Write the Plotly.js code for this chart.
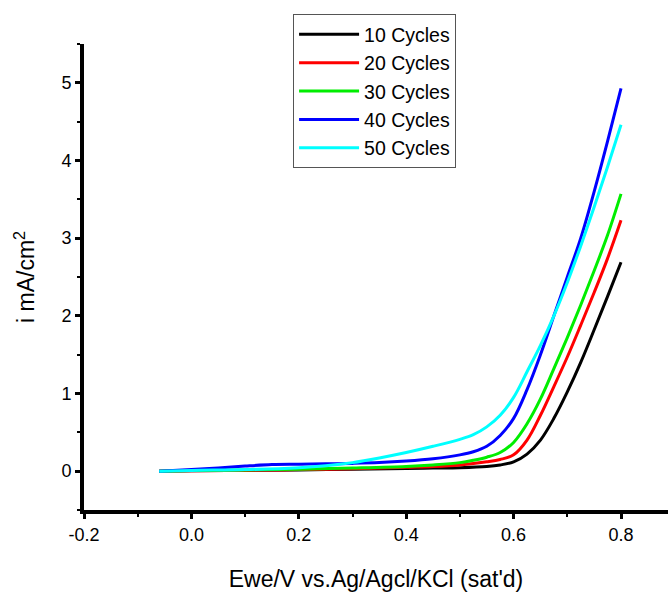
<!DOCTYPE html>
<html>
<head>
<meta charset="utf-8">
<script src="https://cdn.plot.ly/plotly-3.0.1.min.js"></script>
<style>html,body{margin:0;padding:0;background:#fff;}#chart{width:668px;height:592px;}</style>
</head>
<body>
<div id="chart"></div>
<script>
const seriesNames = ["10 Cycles", "20 Cycles", "30 Cycles", "40 Cycles", "50 Cycles"];
const seriesColors = ["#000000", "#ff0000", "#00ee00", "#0000ff", "#00ffff"];

const x10 = [-0.06, 0.0, 0.1, 0.2, 0.3, 0.4, 0.45, 0.5, 0.55, 0.575, 0.6, 0.625, 0.65, 0.675, 0.7, 0.725, 0.75, 0.775, 0.8];
const y10 = [0, 0.005, 0.01, 0.015, 0.025, 0.035, 0.04, 0.045, 0.06, 0.08, 0.12, 0.22, 0.40, 0.68, 1.02, 1.40, 1.82, 2.25, 2.69];

const x20 = [-0.06, 0.0, 0.1, 0.2, 0.3, 0.4, 0.45, 0.5, 0.55, 0.575, 0.6, 0.625, 0.65, 0.675, 0.7, 0.725, 0.75, 0.775, 0.8];
const y20 = [0, 0.005, 0.01, 0.02, 0.03, 0.05, 0.06, 0.08, 0.12, 0.15, 0.21, 0.40, 0.72, 1.09, 1.47, 1.88, 2.30, 2.74, 3.23];

const x30 = [-0.06, 0.0, 0.1, 0.2, 0.3, 0.4, 0.45, 0.5, 0.525, 0.55, 0.575, 0.6, 0.625, 0.65, 0.675, 0.7, 0.725, 0.75, 0.775, 0.8];
const y30 = [0, 0.008, 0.015, 0.025, 0.04, 0.06, 0.08, 0.11, 0.14, 0.18, 0.24, 0.37, 0.61, 0.93, 1.32, 1.72, 2.14, 2.58, 3.04, 3.57];

const x40 = [-0.06, 0.0, 0.05, 0.1, 0.15, 0.2, 0.25, 0.3, 0.35, 0.4, 0.45, 0.5, 0.525, 0.55, 0.575, 0.6, 0.625, 0.65, 0.675, 0.7, 0.725, 0.75, 0.775, 0.8];
const y40 = [0, 0.02, 0.04, 0.065, 0.085, 0.09, 0.095, 0.10, 0.11, 0.13, 0.16, 0.21, 0.25, 0.32, 0.46, 0.68, 1.05, 1.50, 2.00, 2.50, 3.00, 3.60, 4.25, 4.93];

const x50 = [-0.06, 0.0, 0.1, 0.2, 0.25, 0.3, 0.35, 0.4, 0.45, 0.5, 0.525, 0.55, 0.575, 0.6, 0.625, 0.65, 0.675, 0.7, 0.725, 0.75, 0.775, 0.8];
const y50 = [0, 0.01, 0.02, 0.045, 0.07, 0.11, 0.17, 0.24, 0.32, 0.41, 0.47, 0.57, 0.72, 0.95, 1.28, 1.62, 2.00, 2.43, 2.90, 3.40, 3.92, 4.46];

const xs = [x10, x20, x30, x40, x50];
const ys = [y10, y20, y30, y40, y50];

const xTickVals = [-0.2, 0.0, 0.2, 0.4, 0.6, 0.8];
const xTickText = ["-0.2", "0.0", "0.2", "0.4", "0.6", "0.8"];
const yTickVals = [0, 1, 2, 3, 4, 5];

const traces = seriesNames.map((name, i) => ({
  x: xs[i], y: ys[i], name: name, type: "scatter", mode: "lines",
  line: {color: seriesColors[i], width: 3, shape: "spline", smoothing: 1}
}));

const font = "Liberation Sans, Arial, sans-serif";
const layout = {
  width: 668, height: 592,
  margin: {l: 84, r: 0, t: 44, b: 82},
  paper_bgcolor: "#fff", plot_bgcolor: "#fff",
  font: {family: font, color: "#000", size: 18},
  showlegend: true,
  legend: {
    x: 0.358, y: 1.064, xanchor: "left", yanchor: "top",
    bordercolor: "#555", borderwidth: 1, bgcolor: "#fff",
    font: {family: font, size: 19.5, color: "#000"},
    itemwidth: 60,
    tracegroupgap: 0
  },
  xaxis: {
    range: [-0.2, 0.8875], showgrid: false, zeroline: false,
    showline: true, linecolor: "#000", linewidth: 4,
    ticks: "outside", ticklen: 5, tickwidth: 3, tickcolor: "#000",
    tickvals: xTickVals, ticktext: xTickText,
    tickfont: {family: font, size: 18, color: "#000"},
    minor: {dtick: 0.1, tick0: 0, ticks: "outside", ticklen: 3, tickwidth: 2, tickcolor: "#000"},
    title: {text: "Ewe/V vs.Ag/Agcl/KCl (sat'd)", font: {family: font, size: 23, color: "#000"}, standoff: 32}
  },
  yaxis: {
    range: [-0.5, 5.5], showgrid: false, zeroline: false,
    showline: true, linecolor: "#000", linewidth: 4,
    ticks: "outside", ticklen: 5, tickwidth: 3, tickcolor: "#000",
    tickvals: yTickVals,
    tickfont: {family: font, size: 18, color: "#000"},
    minor: {dtick: 0.5, tick0: 0, ticks: "outside", ticklen: 3, tickwidth: 2, tickcolor: "#000"},
    title: {text: "i mA/cm<sup>2</sup>", font: {family: font, size: 23, color: "#000"}, standoff: 21}
  }
};

Plotly.newPlot("chart", traces, layout, {displayModeBar: false, staticPlot: true});
</script>
</body>
</html>
